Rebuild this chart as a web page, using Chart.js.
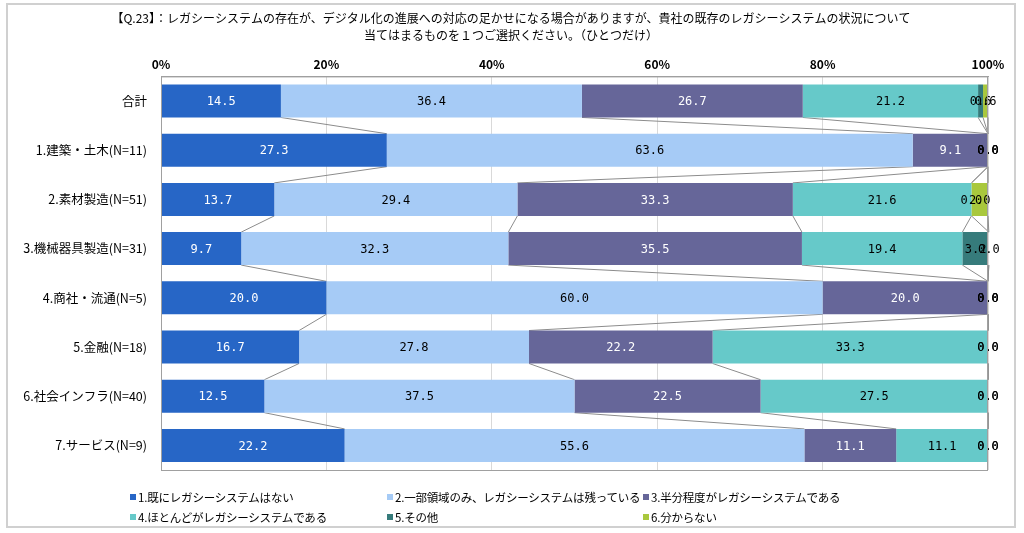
<!DOCTYPE html>
<html>
<head>
<meta charset="utf-8">
<script src="https://cdn.jsdelivr.net/npm/chart.js@4/dist/chart.umd.min.js"></script>
<style>
  body { margin: 0; background: #fff; }
  #wrap { position: relative; width: 1024px; height: 533px; }
  #frame { position: absolute; left: 6px; top: 3px; width: 1010px; height: 525px; border: 2px solid #d0d0d0; box-sizing: border-box; }
  canvas { position: absolute; left: 0; top: 0; }
  .lg { position: absolute; font: 11.5px "Noto Sans CJK JP", sans-serif; letter-spacing: -0.2px; color: #000; white-space: nowrap; line-height: 14px; }
  .lg i { display: inline-block; width: 6px; height: 6px; margin-right: 2px; vertical-align: 2px; }
</style>
</head>
<body>
<div id="wrap">
  <div id="frame"></div>
  <canvas id="chart" width="1024" height="533"></canvas>
</div>
<script>
const categories = ["合計", "1.建築・土木(N=11)", "2.素材製造(N=51)", "3.機械器具製造(N=31)",
  "4.商社・流通(N=5)", "5.金融(N=18)", "6.社会インフラ(N=40)", "7.サービス(N=9)"];
const seriesNames = ["1.既にレガシーシステムはない", "2.一部領域のみ、レガシーシステムは残っている",
  "3.半分程度がレガシーシステムである", "4.ほとんどがレガシーシステムである", "5.その他", "6.分からない"];
const s1 = [14.5, 27.3, 13.7, 9.7, 20.0, 16.7, 12.5, 22.2];
const s2 = [36.4, 63.6, 29.4, 32.3, 60.0, 27.8, 37.5, 55.6];
const s3 = [26.7, 9.1, 33.3, 35.5, 20.0, 22.2, 22.5, 11.1];
const s4 = [21.2, 0.0, 21.6, 19.4, 0.0, 33.3, 27.5, 11.1];
const s5 = [0.6, 0.0, 0.0, 3.2, 0.0, 0.0, 0.0, 0.0];
const s6 = [0.6, 0.0, 2.0, 0.0, 0.0, 0.0, 0.0, 0.0];
const xTicks = [0, 20, 40, 60, 80, 100];
const title = ["【Q.23】：レガシーシステムの存在が、デジタル化の進展への対応の足かせになる場合がありますが、貴社の既存のレガシーシステムの状況について",
  "当てはまるものを１つご選択ください。（ひとつだけ）"];

const colors = ["#2766c6", "#a6cbf6", "#666699", "#66c9c9", "#367b7b", "#a9c83d"];
const labelColors = ["#fff", "#000", "#fff", "#000", "#000", "#000"];
const allSeries = [s1, s2, s3, s4, s5, s6];

// legend in html, laid out like the original grid
const legendPos = [[130, 490], [387, 490], [643, 490], [130, 510], [387, 510], [643, 510]];
seriesNames.forEach((n, i) => {
  const d = document.createElement("div");
  d.className = "lg";
  d.style.left = legendPos[i][0] + "px";
  d.style.top = legendPos[i][1] + "px";
  d.innerHTML = '<i style="background:' + colors[i] + '"></i>' + n;
  document.getElementById("wrap").appendChild(d);
});

const titleText = {
  id: "titleText",
  afterDraw(chart) {
    const ctx = chart.ctx;
    ctx.save();
    ctx.font = "12px 'Noto Sans CJK JP', sans-serif";
    ctx.fillStyle = "#000";
    ctx.textAlign = "center";
    ctx.textBaseline = "middle";
    ctx.fillText(title[0], 511, 18);
    ctx.fillText(title[1], 511, 35);
    ctx.restore();
  }
};

const seriesLines = {
  id: "seriesLines",
  beforeDatasetsDraw(chart) {
    const ctx = chart.ctx;
    ctx.save();
    ctx.strokeStyle = "#8c8c8c";
    ctx.lineWidth = 1;
    chart.data.datasets.forEach((ds, k) => {
      const bars = chart.getDatasetMeta(k).data;
      for (let i = 0; i < bars.length - 1; i++) {
        const a = bars[i], b = bars[i + 1];
        ctx.beginPath();
        ctx.moveTo(a.x, a.y + a.height / 2);
        ctx.lineTo(b.x, b.y - b.height / 2);
        ctx.stroke();
      }
    });
    ctx.restore();
  }
};

const valueLabels = {
  id: "valueLabels",
  afterDatasetsDraw(chart) {
    const ctx = chart.ctx;
    ctx.save();
    ctx.font = "12px 'DejaVu Sans Mono', monospace";
    ctx.textAlign = "center";
    ctx.textBaseline = "middle";
    chart.data.datasets.forEach((ds, k) => {
      chart.getDatasetMeta(k).data.forEach((bar, i) => {
        const v = ds.data[i];
        ctx.fillStyle = v === 0 ? "#000" : labelColors[k];
        ctx.fillText(v.toFixed(1), (bar.x + bar.base) / 2, bar.y + 1);
      });
    });
    ctx.restore();
  }
};

new Chart(document.getElementById("chart"), {
  type: "bar",
  data: {
    labels: categories,
    datasets: allSeries.map((s, k) => ({
      label: seriesNames[k],
      data: s,
      backgroundColor: colors[k],
      borderWidth: 0,
      categoryPercentage: 1,
      barPercentage: 0.67
    }))
  },
  options: {
    indexAxis: "y",
    responsive: false,
    animation: false,
    layout: { padding: { left: 10, right: 36, top: 52, bottom: 63 } },
    plugins: {
      legend: { display: false },
      tooltip: { enabled: false },
      title: { display: false }
    },
    scales: {
      x: {
        position: "top",
        stacked: true,
        min: 0,
        max: 100,
        afterBuildTicks: (s) => { s.ticks = xTicks.map(v => ({ value: v })); },
        ticks: {
          color: "#000",
          padding: 5,
          font: { size: 12, family: "'Noto Sans CJK JP', sans-serif", weight: "bold" },
          callback: (v) => v + "%"
        },
        grid: { color: "#d9d9d9", drawTicks: false },
        border: { display: true, color: "#a0a0a0" }
      },
      y: {
        stacked: true,
        afterFit: (s) => { s.width = 151; },
        ticks: {
          color: "#000",
          padding: 6,
          font: { size: 12.5, family: "'Noto Sans CJK JP', sans-serif" }
        },
        grid: { display: false },
        border: { display: true, color: "#a0a0a0" }
      }
    }
  },
  plugins: [titleText, seriesLines, valueLabels, {
    id: "plotBorder",
    afterDraw(chart) {
      const a = chart.chartArea, ctx = chart.ctx;
      ctx.save();
      ctx.strokeStyle = "#a0a0a0";
      ctx.lineWidth = 1;
      ctx.strokeRect(a.left + 0.5, a.top + 0.5, a.right - a.left - 1, a.bottom - a.top);
      ctx.restore();
    }
  }]
});
</script>
</body>
</html>
